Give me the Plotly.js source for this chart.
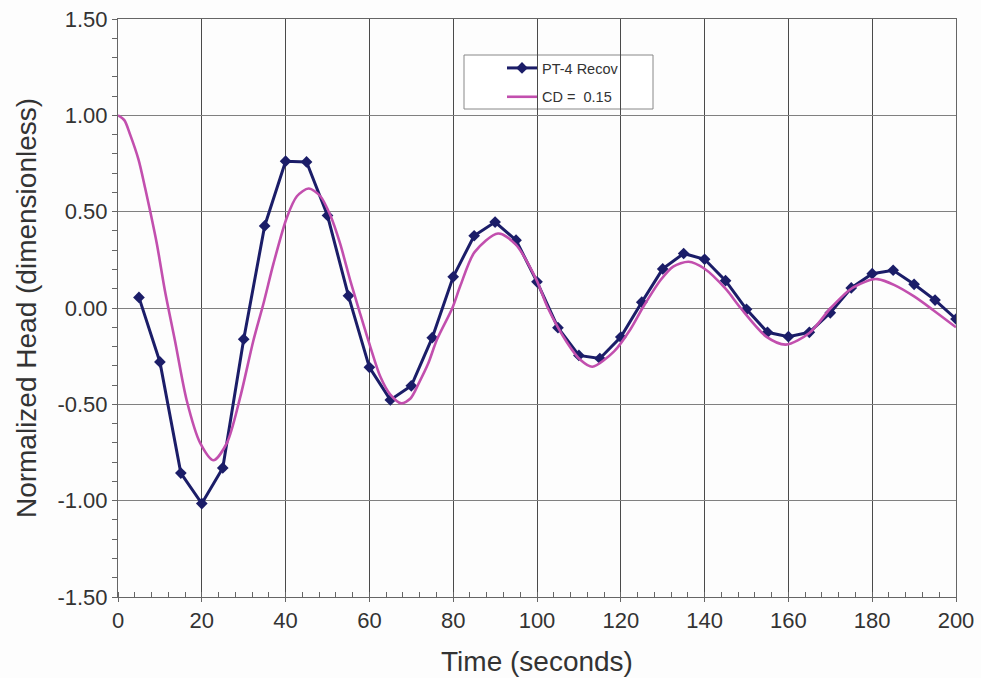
<!DOCTYPE html>
<html>
<head>
<meta charset="utf-8">
<script src="https://cdn.plot.ly/plotly-3.0.1.min.js"></script>
<style>
  html, body { margin: 0; padding: 0; background: #fdfdfd; }
  #chart { width: 981px; height: 678px; }
</style>
</head>
<body>
<div id="chart"></div>
<script>
// Measured recovery data (PT-4 Recov)
const obsTime = [5, 10, 15, 20, 25, 30, 35, 40, 45, 50, 55, 60, 65, 70, 75, 80, 85, 90, 95, 100,
                 105, 110, 115, 120, 125, 130, 135, 140, 145, 150, 155, 160, 165, 170, 175, 180, 185, 190, 195, 200];
const obsHead = [0.055, -0.28, -0.857, -1.015, -0.83, -0.162, 0.426, 0.762, 0.758, 0.48, 0.063, -0.308, -0.477, -0.404, -0.154, 0.162, 0.375, 0.446, 0.352, 0.136,
                 -0.102, -0.246, -0.262, -0.151, 0.03, 0.203, 0.283, 0.253, 0.142, -0.007, -0.126, -0.149, -0.126, -0.025, 0.104, 0.178, 0.196, 0.123, 0.041, -0.057];

// Type curve CD = 0.15
const curveTime = [0, 1.5, 2.9, 4.9, 6.5, 7.8, 9.3, 11.2, 13.6, 16.4, 19.6, 22.8, 26.0, 29.2, 32.3, 34.8, 37.1, 40.3, 42.7, 45.5, 48.3,
                   50.7, 53.0, 55.4, 57.8, 60.2, 62.6, 65.0, 67.6, 69.8, 71.8, 74.0, 76.1, 79.8, 81.7, 85.1, 90.7, 94.9, 99.9, 102.6, 107.2,
                   110.4, 113.2, 118.4, 122.3, 125.2, 129.5, 132.5, 136.2, 139.9, 145.0, 148.6, 154.8, 159.4, 165.0, 170.1, 175.0, 179.9, 181.3, 185.2, 190.0,
                   194.5, 200];
const curveHead = [1.00, 0.975, 0.90, 0.77, 0.62, 0.49, 0.33, 0.09, -0.17, -0.48, -0.70, -0.79, -0.70, -0.46, -0.17, 0.03, 0.23, 0.47, 0.58, 0.62, 0.58,
                   0.48, 0.335, 0.145, -0.03, -0.20, -0.356, -0.45, -0.495, -0.47, -0.39, -0.29, -0.165, 0.00, 0.115, 0.29, 0.387, 0.33, 0.145, 0.00, -0.18,
                   -0.27, -0.305, -0.225, -0.11, 0.00, 0.145, 0.215, 0.24, 0.205, 0.10, 0.00, -0.15, -0.19, -0.13, 0.00, 0.10, 0.148, 0.15, 0.12, 0.06,
                   -0.01, -0.10];

const obsName = "PT-4 Recov";
const curveName = "CD =  0.15";

const yTickVals = [1.5, 1.0, 0.5, 0.0, -0.5, -1.0, -1.5];
const yTickText = ["1.50", "1.00", "0.50", "0.00", "-0.50", "-1.00", "-1.50"];
const xTickVals = [0, 20, 40, 60, 80, 100, 120, 140, 160, 180, 200];
const xTickText = ["0", "20", "40", "60", "80", "100", "120", "140", "160", "180", "200"];

const navy = "#1b1d68";
const magenta = "#c24fae";

const traces = [
  {
    x: obsTime, y: obsHead, name: obsName, type: "scatter", mode: "lines+markers",
    line: { color: navy, width: 3 },
    marker: { symbol: "diamond", size: 9, color: navy },
    legendgroup: "a"
  },
  {
    x: curveTime, y: curveHead, name: curveName, type: "scatter", mode: "lines",
    line: { color: magenta, width: 2.6, shape: "spline", smoothing: 0.8 },
    legendgroup: "b"
  }
];

const W = 981, H = 678;
const L = 118, R = 25, T = 19, B = 81;
const pw = W - L - R, ph = H - T - B;
function px2x(p) { return (p - L) / pw; }
function px2y(p) { return (H - B - p) / ph; }

const layout = {
  width: W, height: H,
  margin: { l: L, r: R, t: T, b: B },
  paper_bgcolor: "#fdfdfd",
  plot_bgcolor: "#fdfdfd",
  font: { family: "Liberation Sans, Arial, sans-serif", color: "#333" },
  showlegend: true,
  legend: {
    x: px2x(502), y: px2y(52), xanchor: "left", yanchor: "top",
    bgcolor: "rgba(0,0,0,0)", borderwidth: 0,
    font: { size: 14.5, color: "#333" },
    tracegroupgap: 7
  },
  shapes: [{
    type: "rect", xref: "paper", yref: "paper",
    x0: px2x(464), x1: px2x(653), y0: px2y(109), y1: px2y(55),
    line: { color: "#888", width: 1 }, fillcolor: "rgba(255,255,255,0.9)", layer: "below"
  }],
  xaxis: {
    range: [0, 200],
    tickvals: xTickVals, ticktext: xTickText,
    showgrid: true, gridcolor: "#4a4a4a", gridwidth: 1,
    showline: true, linecolor: "#666", linewidth: 1, mirror: true,
    zeroline: false,
    ticks: "outside", ticklen: 4, tickcolor: "#666",
    minor: { dtick: 4, ticks: "inside", ticklen: 5, tickcolor: "#666", showgrid: false },
    tickfont: { size: 22, color: "#333" },
    title: { text: "Time (seconds)", font: { size: 28, color: "#333" }, standoff: 18 }
  },
  yaxis: {
    range: [-1.5, 1.5],
    tickvals: yTickVals, ticktext: yTickText,
    showgrid: true, gridcolor: "#808080", gridwidth: 1,
    showline: true, linecolor: "#666", linewidth: 1, mirror: true,
    zeroline: false,
    ticks: "outside", ticklen: 5, tickcolor: "#666",
    minor: { dtick: 0.1, ticks: "outside", ticklen: 5, tickcolor: "#666", showgrid: false },
    tickfont: { size: 22, color: "#333" },
    title: { text: "Normalized Head (dimensionless)", font: { size: 28, color: "#333" }, standoff: 12 }
  }
};

Plotly.newPlot("chart", traces, layout, { displayModeBar: false, staticPlot: true });
</script>
</body>
</html>
